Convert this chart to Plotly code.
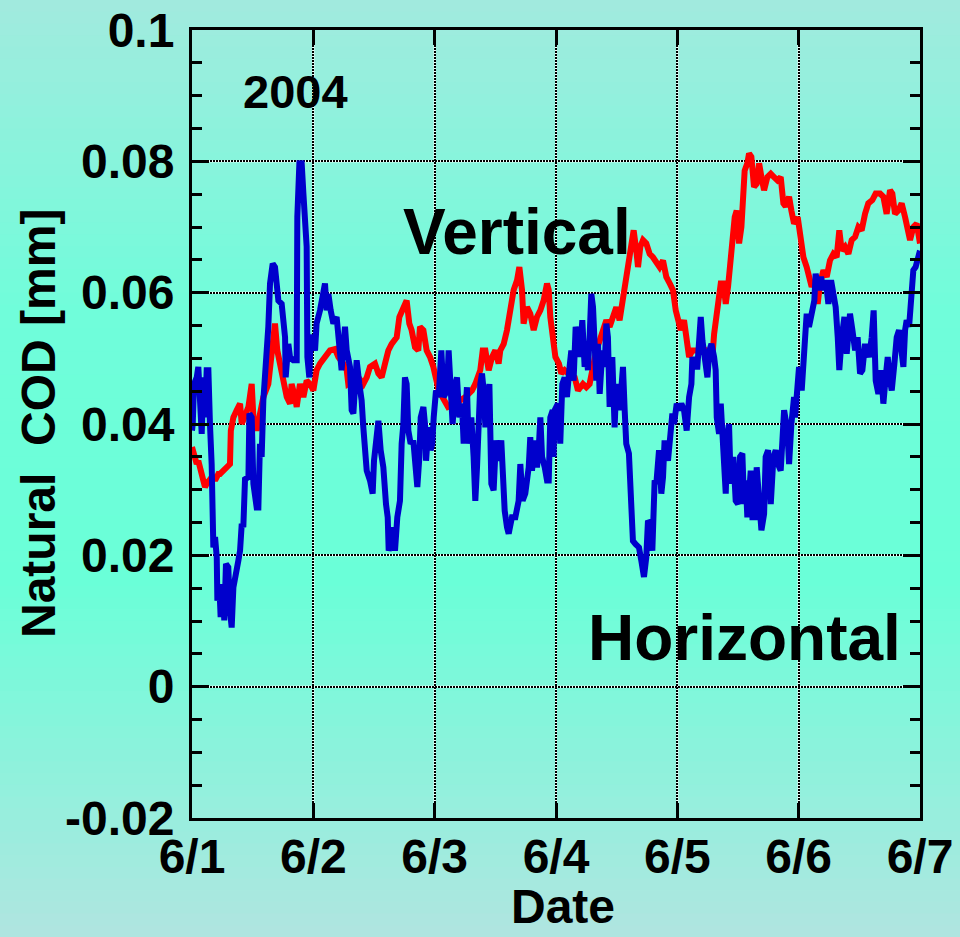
import plotly.graph_objects as go

# ---------------- data ----------------
tick_days = [0, 1, 2, 3, 4, 5, 6]
tick_day_labels = ["6/1", "6/2", "6/3", "6/4", "6/5", "6/6", "6/7"]
tick_mm = [-0.02, 0.0, 0.02, 0.04, 0.06, 0.08, 0.1]
tick_mm_labels = ["-0.02", "0", "0.02", "0.04", "0.06", "0.08", "0.1"]

# Vertical (red): (day since 6/1 00:00, natural COD in mm)
vertical_points = [
    (0.000, 0.0365), (0.011, 0.0355), (0.024, 0.0350), (0.039, 0.0339), (0.052, 0.0344),
    (0.066, 0.0334), (0.080, 0.0319), (0.094, 0.0309), (0.107, 0.0304), (0.121, 0.0309),
    (0.135, 0.0314), (0.148, 0.0314), (0.162, 0.0319), (0.176, 0.0319), (0.190, 0.0314),
    (0.204, 0.0319), (0.217, 0.0324), (0.231, 0.0324), (0.258, 0.0329), (0.286, 0.0334),
    (0.313, 0.0339), (0.320, 0.0390), (0.341, 0.0410), (0.368, 0.0421), (0.396, 0.0431),
    (0.410, 0.0400), (0.437, 0.0416), (0.465, 0.0426), (0.492, 0.0461), (0.506, 0.0410),
    (0.533, 0.0390), (0.560, 0.0421), (0.588, 0.0441), (0.629, 0.0461), (0.657, 0.0502),
    (0.684, 0.0553), (0.703, 0.0512), (0.725, 0.0492), (0.753, 0.0461), (0.781, 0.0441),
    (0.808, 0.0431), (0.821, 0.0461), (0.849, 0.0441), (0.863, 0.0426), (0.890, 0.0461),
    (0.918, 0.0441), (0.945, 0.0466), (0.973, 0.0461),
    (1.000, 0.0451), (1.027, 0.0482), (1.055, 0.0492), (1.096, 0.0502), (1.137, 0.0512),
    (1.179, 0.0514), (1.206, 0.0502), (1.247, 0.0492), (1.275, 0.0482), (1.288, 0.0461),
    (1.330, 0.0466), (1.371, 0.0471), (1.412, 0.0461), (1.440, 0.0471), (1.467, 0.0487),
    (1.508, 0.0492), (1.536, 0.0477), (1.563, 0.0471), (1.591, 0.0492), (1.618, 0.0512),
    (1.646, 0.0522), (1.687, 0.0532), (1.709, 0.0563), (1.742, 0.0578), (1.769, 0.0588),
    (1.791, 0.0553), (1.810, 0.0543), (1.838, 0.0517), (1.865, 0.0512), (1.879, 0.0548),
    (1.907, 0.0543), (1.934, 0.0512), (1.962, 0.0502), (1.989, 0.0487),
    (2.005, 0.0471), (2.033, 0.0451), (2.110, 0.0426), (2.170, 0.0431), (2.253, 0.0441),
    (2.308, 0.0451), (2.335, 0.0461), (2.376, 0.0482), (2.396, 0.0512), (2.418, 0.0512),
    (2.445, 0.0482), (2.473, 0.0502), (2.500, 0.0512), (2.527, 0.0492), (2.541, 0.0512),
    (2.569, 0.0522), (2.596, 0.0543), (2.624, 0.0578), (2.651, 0.0604), (2.679, 0.0619),
    (2.698, 0.0639), (2.720, 0.0604), (2.733, 0.0553), (2.761, 0.0578), (2.788, 0.0568),
    (2.816, 0.0543), (2.843, 0.0563), (2.871, 0.0573), (2.898, 0.0588), (2.926, 0.0614),
    (2.940, 0.0604), (2.953, 0.0563), (2.975, 0.0537),
    (2.995, 0.0502), (3.024, 0.0492), (3.044, 0.0477), (3.071, 0.0482), (3.099, 0.0477),
    (3.154, 0.0471), (3.181, 0.0451), (3.222, 0.0461), (3.250, 0.0456), (3.277, 0.0461),
    (3.299, 0.0482), (3.332, 0.0512), (3.360, 0.0527), (3.387, 0.0543), (3.415, 0.0558),
    (3.442, 0.0548), (3.470, 0.0563), (3.497, 0.0578), (3.524, 0.0558), (3.552, 0.0593),
    (3.579, 0.0624), (3.601, 0.0649), (3.621, 0.0675), (3.640, 0.0695), (3.662, 0.0664),
    (3.676, 0.0639), (3.695, 0.0670), (3.717, 0.0680), (3.744, 0.0675), (3.772, 0.0659),
    (3.799, 0.0654), (3.827, 0.0644), (3.854, 0.0639), (3.882, 0.0649), (3.909, 0.0624),
    (3.937, 0.0614), (3.964, 0.0604),
    (3.987, 0.0573), (4.006, 0.0553), (4.028, 0.0543), (4.055, 0.0558), (4.077, 0.0532),
    (4.097, 0.0502), (4.124, 0.0512), (4.152, 0.0512), (4.179, 0.0512), (4.207, 0.0517),
    (4.234, 0.0512), (4.261, 0.0502), (4.289, 0.0502), (4.303, 0.0537), (4.325, 0.0563),
    (4.344, 0.0583), (4.358, 0.0614), (4.380, 0.0614), (4.399, 0.0583), (4.418, 0.0609),
    (4.435, 0.0649), (4.454, 0.0680), (4.473, 0.0715), (4.489, 0.0725), (4.509, 0.0675),
    (4.528, 0.0700), (4.544, 0.0746), (4.555, 0.0786), (4.577, 0.0797), (4.591, 0.0812),
    (4.610, 0.0807), (4.632, 0.0761), (4.654, 0.0766), (4.674, 0.0797), (4.693, 0.0776),
    (4.715, 0.0756), (4.742, 0.0776), (4.770, 0.0781), (4.797, 0.0776), (4.825, 0.0771),
    (4.852, 0.0776), (4.874, 0.0736), (4.893, 0.0731), (4.921, 0.0746), (4.940, 0.0725),
    (4.962, 0.0705),
    (4.992, 0.0715), (5.011, 0.0685), (5.039, 0.0654), (5.066, 0.0639), (5.085, 0.0619),
    (5.107, 0.0609), (5.129, 0.0619), (5.157, 0.0583), (5.176, 0.0614), (5.204, 0.0634),
    (5.231, 0.0624), (5.258, 0.0649), (5.286, 0.0659), (5.313, 0.0654), (5.335, 0.0695),
    (5.355, 0.0664), (5.382, 0.0670), (5.410, 0.0659), (5.437, 0.0680), (5.465, 0.0685),
    (5.492, 0.0700), (5.519, 0.0695), (5.547, 0.0720), (5.574, 0.0736), (5.607, 0.0741),
    (5.635, 0.0751), (5.671, 0.0751), (5.698, 0.0746), (5.725, 0.0720), (5.753, 0.0756),
    (5.772, 0.0751), (5.794, 0.0720), (5.822, 0.0725), (5.849, 0.0736), (5.877, 0.0715),
    (5.899, 0.0690), (5.918, 0.0680), (5.945, 0.0700), (5.973, 0.0705), (6.000, 0.0675),
]

# Horizontal (blue)
horizontal_points = [
    (0.000, 0.0390), (0.006, 0.0400), (0.017, 0.0461), (0.039, 0.0471), (0.052, 0.0487),
    (0.066, 0.0451), (0.080, 0.0385), (0.094, 0.0471), (0.107, 0.0410), (0.121, 0.0482),
    (0.135, 0.0482), (0.148, 0.0400), (0.162, 0.0339), (0.176, 0.0212), (0.190, 0.0228),
    (0.204, 0.0197), (0.209, 0.0131), (0.225, 0.0156), (0.236, 0.0106), (0.253, 0.0156),
    (0.266, 0.0101), (0.280, 0.0187), (0.299, 0.0182), (0.313, 0.0116), (0.327, 0.0090),
    (0.341, 0.0151), (0.368, 0.0172), (0.382, 0.0192), (0.396, 0.0207), (0.410, 0.0248),
    (0.423, 0.0243), (0.437, 0.0316), (0.465, 0.0319), (0.473, 0.0416), (0.492, 0.0410),
    (0.506, 0.0309), (0.533, 0.0273), (0.547, 0.0273), (0.560, 0.0370), (0.574, 0.0350),
    (0.588, 0.0436), (0.602, 0.0466), (0.615, 0.0512), (0.629, 0.0548), (0.643, 0.0614),
    (0.665, 0.0644), (0.684, 0.0639), (0.698, 0.0614), (0.712, 0.0588), (0.739, 0.0583),
    (0.753, 0.0563), (0.767, 0.0532), (0.772, 0.0471), (0.781, 0.0512), (0.794, 0.0522),
    (0.808, 0.0502), (0.835, 0.0497), (0.863, 0.0497), (0.868, 0.0715), (0.885, 0.0797),
    (0.904, 0.0797), (0.918, 0.0751), (0.932, 0.0680), (0.945, 0.0670), (0.951, 0.0502),
    (0.967, 0.0471), (0.978, 0.0532),
    (0.986, 0.0532), (1.014, 0.0512), (1.027, 0.0553), (1.055, 0.0573), (1.082, 0.0604),
    (1.096, 0.0614), (1.110, 0.0573), (1.124, 0.0598), (1.143, 0.0573), (1.165, 0.0553),
    (1.192, 0.0563), (1.214, 0.0512), (1.233, 0.0482), (1.261, 0.0548), (1.275, 0.0512),
    (1.302, 0.0487), (1.316, 0.0421), (1.330, 0.0416), (1.343, 0.0482), (1.357, 0.0497),
    (1.379, 0.0461), (1.398, 0.0436), (1.412, 0.0395), (1.426, 0.0360), (1.440, 0.0329),
    (1.467, 0.0314), (1.489, 0.0294), (1.500, 0.0344), (1.522, 0.0385), (1.536, 0.0405),
    (1.555, 0.0360), (1.577, 0.0334), (1.599, 0.0278), (1.613, 0.0258), (1.621, 0.0207),
    (1.637, 0.0217), (1.659, 0.0243), (1.673, 0.0207), (1.692, 0.0258), (1.714, 0.0283),
    (1.728, 0.0370), (1.742, 0.0400), (1.755, 0.0471), (1.769, 0.0461), (1.783, 0.0390),
    (1.802, 0.0370), (1.824, 0.0375), (1.838, 0.0329), (1.857, 0.0304), (1.874, 0.0350),
    (1.885, 0.0410), (1.907, 0.0426), (1.920, 0.0400), (1.929, 0.0344), (1.948, 0.0395),
    (1.967, 0.0360), (1.980, 0.0370),
    (1.992, 0.0410), (2.011, 0.0451), (2.033, 0.0441), (2.055, 0.0512), (2.074, 0.0441),
    (2.102, 0.0451), (2.115, 0.0512), (2.129, 0.0451), (2.148, 0.0400), (2.170, 0.0461),
    (2.184, 0.0471), (2.203, 0.0410), (2.225, 0.0431), (2.239, 0.0370), (2.253, 0.0441),
    (2.266, 0.0456), (2.280, 0.0370), (2.302, 0.0410), (2.321, 0.0350), (2.335, 0.0283),
    (2.349, 0.0334), (2.363, 0.0410), (2.376, 0.0461), (2.390, 0.0477), (2.404, 0.0451),
    (2.418, 0.0395), (2.431, 0.0421), (2.451, 0.0461), (2.467, 0.0309), (2.486, 0.0299),
    (2.505, 0.0375), (2.527, 0.0344), (2.549, 0.0375), (2.560, 0.0309), (2.577, 0.0268),
    (2.596, 0.0243), (2.610, 0.0233), (2.637, 0.0258), (2.665, 0.0258), (2.692, 0.0283),
    (2.706, 0.0339), (2.725, 0.0283), (2.747, 0.0294), (2.775, 0.0334), (2.788, 0.0380),
    (2.802, 0.0329), (2.830, 0.0375), (2.843, 0.0334), (2.857, 0.0360), (2.871, 0.0410),
    (2.885, 0.0350), (2.907, 0.0334), (2.926, 0.0314), (2.940, 0.0314), (2.953, 0.0410),
    (2.973, 0.0421),
    (2.980, 0.0350), (2.989, 0.0421), (3.016, 0.0431), (3.035, 0.0370), (3.052, 0.0461),
    (3.071, 0.0471), (3.090, 0.0441), (3.112, 0.0487), (3.126, 0.0512), (3.145, 0.0466),
    (3.162, 0.0548), (3.181, 0.0532), (3.195, 0.0502), (3.217, 0.0558), (3.236, 0.0487),
    (3.250, 0.0512), (3.263, 0.0482), (3.277, 0.0532), (3.291, 0.0598), (3.305, 0.0578),
    (3.318, 0.0492), (3.332, 0.0466), (3.346, 0.0522), (3.360, 0.0446), (3.382, 0.0512),
    (3.401, 0.0487), (3.415, 0.0553), (3.428, 0.0532), (3.442, 0.0426), (3.464, 0.0502),
    (3.483, 0.0395), (3.497, 0.0461), (3.524, 0.0421), (3.552, 0.0487), (3.566, 0.0421),
    (3.579, 0.0370), (3.601, 0.0355), (3.621, 0.0273), (3.634, 0.0222), (3.656, 0.0217),
    (3.684, 0.0212), (3.703, 0.0192), (3.725, 0.0167), (3.744, 0.0197), (3.758, 0.0253),
    (3.777, 0.0248), (3.794, 0.0207), (3.813, 0.0314), (3.827, 0.0309), (3.849, 0.0360),
    (3.868, 0.0294), (3.882, 0.0319), (3.895, 0.0375), (3.923, 0.0344), (3.942, 0.0375),
    (3.959, 0.0416),
    (3.973, 0.0400), (3.995, 0.0431), (4.014, 0.0421), (4.033, 0.0431), (4.055, 0.0421),
    (4.077, 0.0390), (4.097, 0.0441), (4.116, 0.0461), (4.124, 0.0502), (4.143, 0.0487),
    (4.165, 0.0487), (4.179, 0.0532), (4.193, 0.0563), (4.207, 0.0527), (4.226, 0.0492),
    (4.248, 0.0471), (4.264, 0.0512), (4.281, 0.0522), (4.303, 0.0502), (4.316, 0.0482),
    (4.325, 0.0410), (4.344, 0.0385), (4.358, 0.0431), (4.371, 0.0380), (4.385, 0.0329),
    (4.399, 0.0294), (4.413, 0.0385), (4.426, 0.0400), (4.440, 0.0309), (4.462, 0.0350),
    (4.481, 0.0283), (4.500, 0.0278), (4.517, 0.0350), (4.536, 0.0355), (4.550, 0.0278),
    (4.564, 0.0314), (4.577, 0.0258), (4.605, 0.0329), (4.619, 0.0258), (4.641, 0.0258),
    (4.654, 0.0334), (4.674, 0.0283), (4.693, 0.0238), (4.715, 0.0263), (4.728, 0.0350),
    (4.748, 0.0360), (4.770, 0.0278), (4.792, 0.0350), (4.811, 0.0360), (4.830, 0.0339),
    (4.852, 0.0329), (4.866, 0.0375), (4.880, 0.0421), (4.907, 0.0390), (4.921, 0.0339),
    (4.940, 0.0400), (4.962, 0.0441),
    (4.970, 0.0410), (4.984, 0.0451), (5.003, 0.0487), (5.025, 0.0451), (5.039, 0.0502),
    (5.052, 0.0543), (5.066, 0.0568), (5.085, 0.0548), (5.107, 0.0573), (5.129, 0.0588),
    (5.140, 0.0629), (5.162, 0.0604), (5.184, 0.0624), (5.204, 0.0604), (5.223, 0.0619),
    (5.245, 0.0583), (5.267, 0.0619), (5.286, 0.0598), (5.305, 0.0578), (5.322, 0.0532),
    (5.335, 0.0482), (5.355, 0.0532), (5.377, 0.0563), (5.396, 0.0507), (5.410, 0.0553),
    (5.423, 0.0568), (5.443, 0.0543), (5.465, 0.0512), (5.486, 0.0532), (5.506, 0.0477),
    (5.525, 0.0482), (5.547, 0.0522), (5.561, 0.0512), (5.580, 0.0502), (5.602, 0.0532),
    (5.618, 0.0573), (5.635, 0.0466), (5.657, 0.0446), (5.679, 0.0482), (5.698, 0.0431),
    (5.717, 0.0471), (5.734, 0.0502), (5.753, 0.0466), (5.767, 0.0451), (5.789, 0.0492),
    (5.808, 0.0532), (5.827, 0.0543), (5.844, 0.0512), (5.863, 0.0487), (5.877, 0.0543),
    (5.890, 0.0558), (5.910, 0.0548), (5.926, 0.0598), (5.945, 0.0634), (5.964, 0.0639),
    (5.986, 0.0659), (6.000, 0.0664),
]

vertical_day = [p[0] for p in vertical_points]
vertical_mm = [p[1] for p in vertical_points]
horizontal_day = [p[0] for p in horizontal_points]
horizontal_mm = [p[1] for p in horizontal_points]

# ---------------- style ----------------
W, H = 960, 937
FONT = "Liberation Sans, Arial, Helvetica, sans-serif"
RED = "#FF0000"
BLUE = "#0000CC"
gradient_stops = [(0.0, (162, 234, 222)), (0.33, (112, 253, 218)),
                  (0.62, (106, 255, 216)), (1.0, (176, 229, 224))]
margin = dict(l=192, r=40, t=30, b=119)
plot_h = H - margin["t"] - margin["b"]
plot_w = W - margin["l"] - margin["r"]


def grad_color(f):
    f = min(max(f, 0.0), 1.0)
    for (f0, c0), (f1, c1) in zip(gradient_stops[:-1], gradient_stops[1:]):
        if f0 <= f <= f1:
            t = (f - f0) / (f1 - f0)
            c = [round(a + (b - a) * t) for a, b in zip(c0, c1)]
            return "rgb(%d,%d,%d)" % tuple(c)
    return "rgb(%d,%d,%d)" % gradient_stops[-1][1]


shapes = []
n_bands = 80
for i in range(-1, n_bands + 1):
    top_px = H * i / n_bands
    bot_px = H * (i + 1) / n_bands + 1
    shapes.append(dict(
        type="rect", xref="paper", yref="paper", layer="below",
        x0=-1, x1=2,
        y0=(H - margin["b"] - bot_px) / plot_h,
        y1=(H - margin["b"] - top_px) / plot_h,
        fillcolor=grad_color((i + 0.5) / n_bands), line=dict(width=0)))

# white underlay for dotted grid lines
for d in tick_days[1:-1]:
    shapes.append(dict(type="line", xref="x", yref="paper", layer="below",
                       x0=d, x1=d, y0=0, y1=1, line=dict(color="white", width=2)))
for v in tick_mm[1:-1]:
    shapes.append(dict(type="line", xref="paper", yref="y", layer="below",
                       x0=0, x1=1, y0=v, y1=v, line=dict(color="white", width=2)))

fig = go.Figure()
fig.add_trace(go.Scatter(x=vertical_day, y=vertical_mm, mode="lines",
                         line=dict(color=RED, width=6), name="Vertical"))
fig.add_trace(go.Scatter(x=horizontal_day, y=horizontal_mm, mode="lines",
                         line=dict(color=BLUE, width=6), name="Horizontal"))

tick_font = dict(family=FONT, size=48, color="black", weight="bold")
axis_common = dict(
    showline=True, linecolor="black", linewidth=3, mirror="allticks",
    ticks="inside", tickcolor="black", tickwidth=3,
    showgrid=True, gridcolor="black", gridwidth=2, griddash="1.5px,1.5px",
    zeroline=False, tickfont=tick_font, automargin=False,
)

fig.update_xaxes(
    **axis_common, range=[0, 6], tickmode="array",
    tickvals=tick_days, ticktext=tick_day_labels, ticklen=15,
    ticklabelstandoff=-6,
)
fig.update_yaxes(
    **axis_common, range=[-0.02, 0.1], tickmode="array",
    tickvals=tick_mm, ticktext=tick_mm_labels, ticklen=17,
    ticklabelstandoff=5,
    minor=dict(dtick=0.005, ticks="inside", ticklen=10, tickwidth=2.5,
               tickcolor="black", showgrid=False),
)

annotations = [
    dict(text="<b>Natural\u00a0\u00a0COD [mm]</b>", textangle=-90,
         x=(38 - margin["l"]) / plot_w, y=0.5, xref="paper", yref="paper",
         xanchor="center", yanchor="middle", showarrow=False,
         font=dict(family=FONT, size=48, color="black")),
    dict(text="<b>Date</b>",
         x=(563 - margin["l"]) / plot_w, y=(H - margin["b"] - 906) / plot_h,
         xref="paper", yref="paper", xanchor="center", yanchor="middle",
         showarrow=False, borderpad=0,
         font=dict(family=FONT, size=48, color="black")),
    dict(text="<b>2004</b>", x=0.857, y=0.0907, xref="x", yref="y",
         showarrow=False, font=dict(family=FONT, size=47, color="black")),
    dict(text="<b>Vertical</b>", x=2.68, y=0.0693, xref="x", yref="y",
         showarrow=False, font=dict(family=FONT, size=64, color="black")),
    dict(text="<b>Horizontal</b>", x=4.55, y=0.0074, xref="x", yref="y",
         showarrow=False, font=dict(family=FONT, size=64, color="black")),
]

fig.update_layout(
    width=W, height=H, margin=margin,
    paper_bgcolor="rgb(165,233,222)", plot_bgcolor="rgba(0,0,0,0)",
    showlegend=False, shapes=shapes, annotations=annotations,
    font=dict(family=FONT, color="black"),
)

fig.write_html("out.html", config={"displayModeBar": False},
               post_script="document.body.style.margin='0';"
                           "document.body.style.overflow='hidden';")
